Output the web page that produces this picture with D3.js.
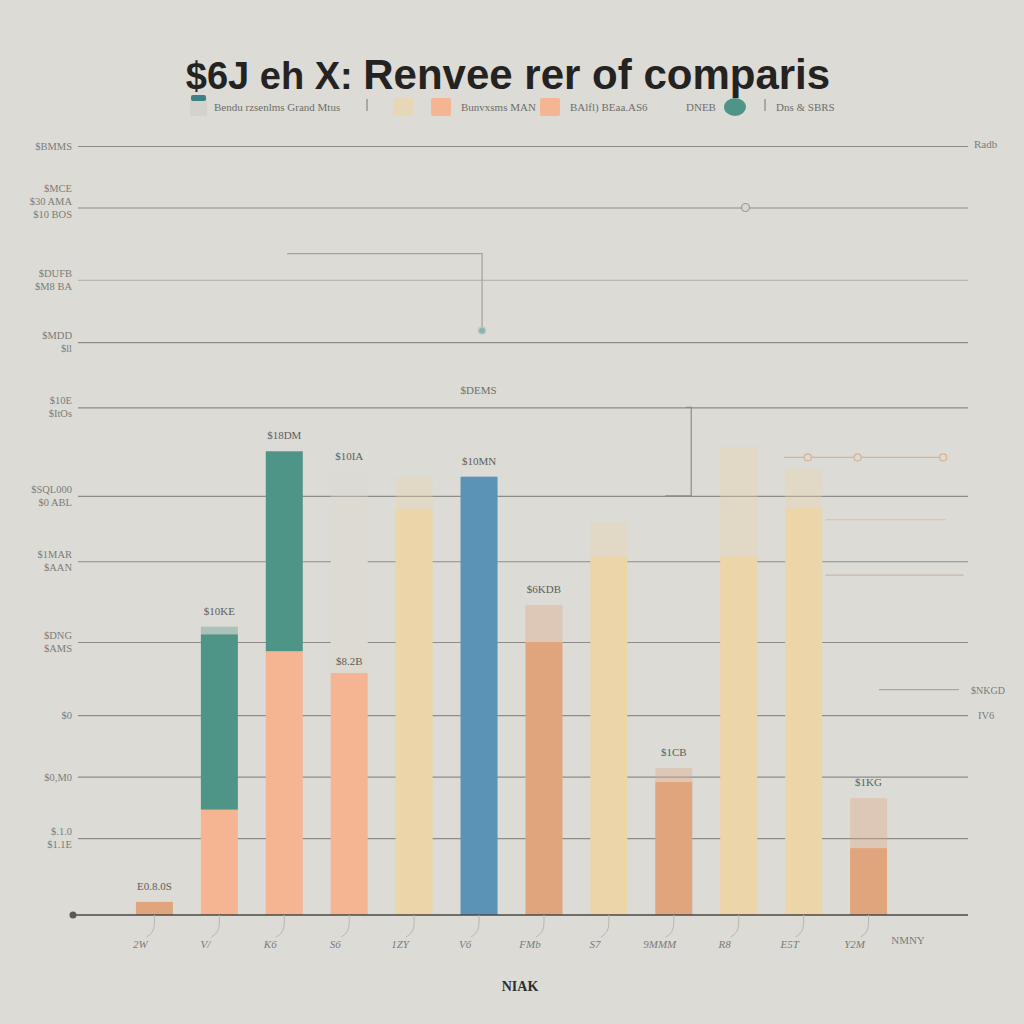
<!DOCTYPE html>
<html>
<head>
<meta charset="utf-8">
<script src="https://cdn.jsdelivr.net/npm/d3@7"></script>
<style>
  html, body { margin: 0; padding: 0; background: #dcdbd6; }
  svg { display: block; }
</style>
</head>
<body>
<svg id="chart" width="1024" height="1024"></svg>
<script>
// ---------- DATA ----------
const titlePrefix = "$6J eh X:";
const titleMain = "Renvee rer of comparis";
const xTitle = "NIAK";
const categories = ["2W", "V/", "K6", "S6", "1ZY", "V6", "FMb", "S7", "9MMM", "R8", "E5T", "Y2M"];
const lastAxisLabel = "NMNY";

// bottom segment values (thousands), kinds
const bottomValues = [1.7, 13.7, 34.3, 31.5, 52.7, 0, 35.5, 46.6, 17.3, 46.6, 52.9, 8.7];
const bottomKinds  = ["Clay", "Peach", "Peach", "Peach", "Sand", "Sand", "Clay", "Sand", "Clay", "Sand", "Sand", "Clay"];
// upper segment values
const topValues = [0, 22.8, 26.0, 22.5, 0, 57.0, 0, 0, 0, 0, 0, 0];
const topKinds  = ["Teal", "Teal", "Teal", "Stone", "Teal", "Blue", "Teal", "Teal", "Teal", "Teal", "Teal", "Teal"];
// faded cap above each bar
const capValues = [0, 1.0, 0, 3.6, 4.2, 0, 4.8, 4.5, 1.8, 14.3, 5.0, 6.5];
const valueLabels = ["E0.8.0S", "$10KE", "$18DM", "$10IA", "", "$10MN", "$6KDB", "", "$1CB", "", "", "$1KG"];
const innerLabels = ["", "", "", "$8.2B", "", "", "", "", "", "", "", ""];

// y ticks (thousands) and their labels
const yTicks = [10, 18, 26, 35.5, 46, 54.5, 66, 74.5, 82.6, 92, 100];
const yTickLabels = [
  ["$.1.0", "$1.1E"],
  ["$0,M0"],
  ["$0"],
  ["$DNG", "$AMS"],
  ["$1MAR", "$AAN"],
  ["$SQL000", "$0 ABL"],
  ["$10E", "$ItOs"],
  ["$MDD", "$ll"],
  ["$DUFB", "$M8 BA"],
  ["$MCE", "$30 AMA", "$10 BOS"],
  ["$BMMS"]
];
const rightLabel = "Radb";

// legend
const legendItems = [
  { kind: "Stone", label: "Bendu rzsenlms Grand Mtus" },
  { kind: "Mark", label: "" },
  { kind: "Sand", label: "" },
  { kind: "Peach", label: "Bunvxsms MAN" },
  { kind: "Peach", label: "BAlfl)  BEaa.AS6" },
  { kind: "None", label: "DNEB" },
  { kind: "Teal", label: "" },
  { kind: "Mark", label: "Dns &  SBRS" }
];

// annotation guides (in data units)
const guideLabels = ["$NKGD", "IV6"];
const guideNote = "$DEMS";

// ---------- CHART ----------
const svg = d3.select("#chart");
const W = 1024, H = 1024;
const plot = { left: 78, right: 968, top: 146, bottom: 915 };

const color = d3.scaleOrdinal()
  .domain(["Clay", "Peach", "Sand", "Teal", "Blue", "Stone"])
  .range(["#e0a57d", "#f6b592", "#ebd5a9", "#4f9587", "#5a93b5", "#dddad2"]);

const y = d3.scaleLinear().domain([0, 100]).range([plot.bottom, plot.top]);
const x = d3.scaleBand().domain(categories).range([122, 901])
  .paddingInner(0.43).paddingOuter(0.215);
const xr = d3.scaleLinear().domain([0, 1]).range([plot.left, plot.right]);

// background
svg.append("rect").attr("width", W).attr("height", H).attr("fill", "#dcdbd6");

// gridlines via axis
const yAxis = d3.axisLeft(y).tickValues(yTicks).tickSize(-(plot.right - plot.left)).tickFormat("");
const gy = svg.append("g").attr("transform", `translate(${plot.left},0)`).call(yAxis);
gy.select(".domain").remove();
gy.selectAll(".tick line").attr("stroke", "#8d8c88").attr("stroke-width", 1.2)
  .attr("stroke-opacity", d => d === 82.6 ? 0.45 : 1);

// y tick labels (multi-line)
yTicks.forEach((t, i) => {
  const lines = yTickLabels[i];
  const n = lines.length;
  const g = svg.append("text")
    .attr("x", plot.left - 6)
    .attr("text-anchor", "end")
    .attr("font-family", "Liberation Serif, serif")
    .attr("font-size", 10.5)
    .attr("fill", "#7c7b77");
  lines.forEach((ln, j) => {
    g.append("tspan")
      .attr("x", plot.left - 6)
      .attr("y", y(t) + 4 + (j - (n - 1)) * 13 + (n > 1 ? 6 : 0))
      .text(ln);
  });
});

// right top label
svg.append("text").attr("x", plot.right + 6).attr("y", y(100) + 2)
  .attr("font-family", "Liberation Serif, serif").attr("font-size", 11)
  .attr("fill", "#7c7b77").text(rightLabel);

// annotation guides
const gg = svg.append("g").attr("fill", "none").attr("stroke-width", 1.2);
gg.append("path")
  .attr("d", `M${xr(0.235)},${y(86)} H${xr(0.454)} V${y(76)}`)
  .attr("stroke", "#a3a29d");
gg.append("circle").attr("cx", xr(0.454)).attr("cy", y(76)).attr("r", 3.5)
  .attr("fill", "#8fb3ad").attr("stroke", "#b9c8c4");
gg.append("circle").attr("cx", xr(0.75)).attr("cy", y(92)).attr("r", 4)
  .attr("fill", "#d6d5cf").attr("stroke", "#9d9c97");
gg.append("path")
  .attr("d", `M${xr(0.683)},${y(66)} H${xr(0.689)} V${y(54.5)} H${xr(0.66)}`)
  .attr("stroke", "#8d8c88");
svg.append("text").attr("x", xr(0.45)).attr("y", y(66) - 13)
  .attr("text-anchor", "middle").attr("font-family", "Liberation Serif, serif")
  .attr("font-size", 11).attr("fill", "#6f6e6a").text(guideNote);
gg.append("line").attr("x1", xr(0.793)).attr("x2", xr(0.975))
  .attr("y1", y(59.5)).attr("y2", y(59.5)).attr("stroke", "#d8b48f");
[0.82, 0.876, 0.972].forEach(f => {
  gg.append("circle").attr("cx", xr(f)).attr("cy", y(59.5)).attr("r", 3.5)
    .attr("fill", "#dcdbd6").attr("stroke", "#d8b48f");
});
gg.append("line").attr("x1", xr(0.84)).attr("x2", xr(0.975))
  .attr("y1", y(51.4)).attr("y2", y(51.4)).attr("stroke", "#e2bd98");
gg.append("line").attr("x1", xr(0.84)).attr("x2", xr(0.995))
  .attr("y1", y(44.2)).attr("y2", y(44.2)).attr("stroke", "#c8b9a6");
gg.append("line").attr("x1", xr(0.9)).attr("x2", xr(0.99))
  .attr("y1", y(29.3)).attr("y2", y(29.3)).attr("stroke", "#a9a8a3");
svg.append("text").attr("x", 971).attr("y", y(29.3) + 4)
  .attr("font-family", "Liberation Serif, serif").attr("font-size", 10)
  .attr("fill", "#7c7b77").text(guideLabels[0]);
svg.append("text").attr("x", 978).attr("y", y(26) + 4)
  .attr("font-family", "Liberation Serif, serif").attr("font-size", 10.5)
  .attr("fill", "#7c7b77").text(guideLabels[1]);

// bars
const bars = svg.append("g");
categories.forEach((c, i) => {
  const x0 = x(c), bw = x.bandwidth();
  const b = bottomValues[i], t = topValues[i], cap = capValues[i];
  const total = b + t;
  if (cap > 0) {
    const capKind = t > 0 ? topKinds[i] : bottomKinds[i];
    bars.append("rect").attr("x", x0).attr("width", bw)
      .attr("y", y(total + cap)).attr("height", y(total) - y(total + cap))
      .attr("fill", color(capKind)).attr("opacity", 0.35);
  }
  if (b > 0) {
    bars.append("rect").attr("x", x0).attr("width", bw)
      .attr("y", y(b)).attr("height", y(0) - y(b))
      .attr("fill", color(bottomKinds[i]));
  }
  if (t > 0) {
    bars.append("rect").attr("x", x0).attr("width", bw)
      .attr("y", y(total)).attr("height", y(b) - y(total))
      .attr("fill", color(topKinds[i]));
  }
  if (valueLabels[i]) {
    bars.append("text").attr("x", x0 + bw / 2).attr("y", y(total + cap) - 12)
      .attr("text-anchor", "middle").attr("font-family", "Liberation Serif, serif")
      .attr("font-size", 11).attr("fill", "#5f5e5a").text(valueLabels[i]);
  }
  if (innerLabels[i]) {
    bars.append("text").attr("x", x0 + bw / 2).attr("y", y(b) - 8)
      .attr("text-anchor", "middle").attr("font-family", "Liberation Serif, serif")
      .attr("font-size", 11).attr("fill", "#5f5e5a").text(innerLabels[i]);
  }
});

// x axis baseline
svg.append("line").attr("x1", 73).attr("x2", plot.right)
  .attr("y1", y(0)).attr("y2", y(0)).attr("stroke", "#4a4946").attr("stroke-width", 1.5);
svg.append("circle").attr("cx", 73).attr("cy", y(0)).attr("r", 3.5).attr("fill", "#5a5955");

// x tick labels with small curved leaders
const gx = svg.append("g");
categories.forEach((c, i) => {
  const cx = x(c) + x.bandwidth() / 2 - 14;
  gx.append("path")
    .attr("d", `M${cx + 14},${y(0)} v8 q0,10 -8,14`)
    .attr("fill", "none").attr("stroke", "#b9b7b0").attr("stroke-width", 1);
  gx.append("text").attr("x", cx).attr("y", 948)
    .attr("text-anchor", "middle").attr("font-family", "Liberation Serif, serif")
    .attr("font-style", "italic").attr("font-size", 11).attr("fill", "#7c7b77").text(c);
});
gx.append("text").attr("x", 908).attr("y", 944).attr("text-anchor", "middle")
  .attr("font-family", "Liberation Serif, serif").attr("font-size", 11)
  .attr("fill", "#7c7b77").text(lastAxisLabel);

// x title
svg.append("text").attr("x", 520).attr("y", 991).attr("text-anchor", "middle")
  .attr("font-family", "Liberation Serif, serif").attr("font-weight", "bold")
  .attr("font-size", 14).attr("fill", "#2f2e2b").text(xTitle);

// title
const title = svg.append("text").attr("x", 508).attr("y", 89).attr("text-anchor", "middle")
  .attr("font-family", "Liberation Sans, Arial, sans-serif").attr("fill", "#242321");
title.append("tspan").attr("font-size", 38).attr("font-weight", "bold").text(titlePrefix + "  ");
title.append("tspan").attr("font-size", 42).attr("font-weight", "bold").text(titleMain);

// legend
const legendX = [190, 362, 393, 431, 540, 686, 724, 760];
const lg = svg.append("g");
legendItems.forEach((it, i) => {
  const lx = legendX[i], ly = 107;
  let textX = lx;
  if (it.kind === "Stone") {
    lg.append("rect").attr("x", lx).attr("y", ly - 9).attr("width", 17).attr("height", 18)
      .attr("rx", 2).attr("fill", "#d3d2cc");
    lg.append("rect").attr("x", lx + 1).attr("y", ly - 12).attr("width", 15).attr("height", 6)
      .attr("rx", 2).attr("fill", "#3f7f86");
    textX = lx + 24;
  } else if (it.kind === "Sand" || it.kind === "Peach") {
    lg.append("rect").attr("x", lx).attr("y", ly - 9).attr("width", 20).attr("height", 18)
      .attr("rx", 2).attr("fill", color(it.kind)).attr("opacity", it.kind === "Sand" ? 0.7 : 1);
    textX = lx + 30;
  } else if (it.kind === "Teal") {
    lg.append("ellipse").attr("cx", lx + 11).attr("cy", ly).attr("rx", 11).attr("ry", 9)
      .attr("fill", "#4f9587");
    textX = lx + 26;
  } else if (it.kind === "Mark") {
    lg.append("line").attr("x1", lx + 5).attr("x2", lx + 5).attr("y1", ly - 8).attr("y2", ly + 4)
      .attr("stroke", "#777").attr("stroke-width", 1);
    textX = lx + 16;
  }
  if (it.label) {
    lg.append("text").attr("x", textX).attr("y", ly + 4)
      .attr("font-family", "Liberation Serif, serif").attr("font-size", 11)
      .attr("fill", "#6f6e6a").text(it.label);
  }
});
</script>
</body>
</html>
